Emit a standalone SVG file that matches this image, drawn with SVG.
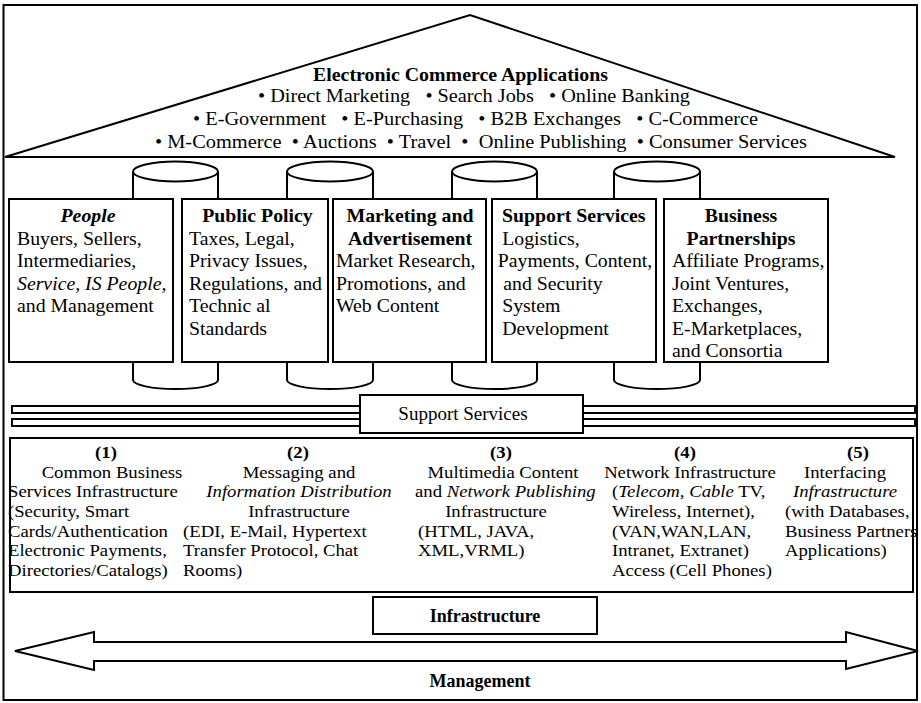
<svg xmlns="http://www.w3.org/2000/svg" width="921" height="703" viewBox="0 0 921 703">
<style>
text{font-family:"Liberation Serif","Times New Roman",serif;fill:#000;}
.t{font-size:18px;}
.s{font-size:17px;}
.b{font-weight:bold;}
.i{font-style:italic;}
.m{text-anchor:middle;}
.ln{fill:none;stroke:#000;stroke-width:2;}
.bx{fill:#fff;stroke:#000;stroke-width:2;}
</style>
<rect width="921" height="703" fill="#fff"/>
<g id="frame"><rect x="3.5" y="5" width="913.5" height="695" class="ln"/></g>

<g id="applications">
<polygon points="5,157 470,15 895,157" class="ln"/>
<text class="t b" x="313" y="81" textLength="295" lengthAdjust="spacingAndGlyphs">Electronic Commerce Applications</text>
<text class="t" x="258" y="102" xml:space="preserve" textLength="432" lengthAdjust="spacingAndGlyphs">• Direct Marketing   • Search Jobs   • Online Banking</text>
<text class="t" x="193" y="125" xml:space="preserve" textLength="565" lengthAdjust="spacingAndGlyphs">• E-Government   • E-Purchasing   • B2B Exchanges   • C-Commerce</text>
<text class="t" x="155" y="148" xml:space="preserve" textLength="652" lengthAdjust="spacingAndGlyphs">• M-Commerce  • Auctions  • Travel  •  Online Publishing  • Consumer Services</text>
</g>

<g id="pillars">
<path class="bx" d="M133,171.5 V380 A42.5,9 0 0 0 218,380 V171.5"/>
<ellipse class="bx" cx="175.5" cy="171.5" rx="42.5" ry="10"/>
<path class="bx" d="M287,171.5 V380 A43,9 0 0 0 373,380 V171.5"/>
<ellipse class="bx" cx="330" cy="171.5" rx="43" ry="10"/>
<path class="bx" d="M452,171.5 V380 A42.5,9 0 0 0 537,380 V171.5"/>
<ellipse class="bx" cx="494.5" cy="171.5" rx="42.5" ry="10"/>
<path class="bx" d="M614,171.5 V380 A43,9 0 0 0 700,380 V171.5"/>
<ellipse class="bx" cx="657" cy="171.5" rx="43" ry="10"/>
</g>

<g id="people">
<rect class="bx" x="9" y="199" width="164" height="163"/>
<text class="t b i m" transform="translate(88,222) scale(1.1,1)">People</text>
<text class="t" transform="translate(17,0) scale(1.1,1)"><tspan x="0" y="245">Buyers, Sellers,</tspan><tspan x="0" y="267.5">Intermediaries,</tspan><tspan x="0" y="290" font-style="italic">Service, IS People,</tspan><tspan x="0" y="312.5">and Management</tspan></text>
</g>

<g id="public-policy">
<rect class="bx" x="182" y="199" width="146" height="163"/>
<text class="t b m" transform="translate(257.5,222) scale(1.1,1)">Public Policy</text>
<text class="t" transform="translate(189,0) scale(1.1,1)"><tspan x="0" y="245">Taxes, Legal,</tspan><tspan x="0" y="267.5">Privacy Issues,</tspan><tspan x="0" y="290">Regulations, and</tspan><tspan x="0" y="312.5">Technic al</tspan><tspan x="0" y="335">Standards</tspan></text>
</g>

<g id="marketing">
<rect class="bx" x="333" y="199" width="153" height="163"/>
<text class="t b m" transform="translate(410,0) scale(1.1,1)"><tspan x="0" y="222">Marketing and</tspan><tspan x="0" y="245">Advertisement</tspan></text>
<text class="t" transform="translate(336,0) scale(1.1,1)"><tspan x="0" y="267.5">Market Research,</tspan><tspan x="0" y="290">Promotions, and</tspan><tspan x="0" y="312.5">Web Content</tspan></text>
</g>

<g id="support-services-box">
<rect class="bx" x="492" y="199" width="164" height="163"/>
<text class="t b" transform="translate(502,222) scale(1.1,1)">Support Services</text>
<text class="t" transform="translate(500,0) scale(1.1,1)"><tspan x="2" y="245">Logistics,</tspan><tspan x="-2" y="267.5">Payments, Content,</tspan><tspan x="3" y="290">and Security</tspan><tspan x="2" y="312.5">System</tspan><tspan x="2" y="335">Development</tspan></text>
</g>

<g id="partnerships">
<rect class="bx" x="664" y="199" width="164" height="163"/>
<text class="t b m" transform="translate(741,0) scale(1.1,1)"><tspan x="0" y="222">Business</tspan><tspan x="0" y="245">Partnerships</tspan></text>
<text class="t" transform="translate(672,0) scale(1.1,1)"><tspan x="0" y="267.5">Affiliate Programs,</tspan><tspan x="0" y="290">Joint Ventures,</tspan><tspan x="0" y="312.5">Exchanges,</tspan><tspan x="0" y="335">E-Marketplaces,</tspan><tspan x="0" y="357.5">and Consortia</tspan></text>
</g>

<g id="support-services-bar">
<rect class="ln" x="12" y="406" width="348" height="7"/>
<rect class="ln" x="12" y="419" width="348" height="7"/>
<rect class="ln" x="583" y="406" width="332" height="7"/>
<rect class="ln" x="583" y="419" width="332" height="7"/>
<rect class="bx" x="360" y="395" width="223" height="38"/>
<text class="m" x="463" y="420" font-size="19">Support Services</text>
</g>

<g id="infrastructure">
<rect class="bx" x="10" y="438" width="903" height="154"/>
<text class="s b m" transform="translate(106,458) scale(1.1,1)">(1)</text>
<text class="s m" transform="translate(112,477.7) scale(1.1,1)">Common Business</text>
<text class="s" transform="translate(8,0) scale(1.1,1)"><tspan x="0" y="497.4">Services Infrastructure</tspan><tspan x="0" y="517.1">(Security, Smart</tspan><tspan x="0" y="536.8">Cards/Authentication</tspan><tspan x="0" y="556.5">Electronic Payments,</tspan><tspan x="0" y="576.2">Directories/Catalogs)</tspan></text>

<text class="s b m" transform="translate(298,458) scale(1.1,1)">(2)</text>
<text class="s m" transform="translate(299,0) scale(1.1,1)"><tspan x="0" y="477.7">Messaging and</tspan><tspan x="0" y="497.4" font-style="italic">Information Distribution</tspan><tspan x="0" y="517.1">Infrastructure</tspan></text>
<text class="s" transform="translate(183,0) scale(1.1,1)"><tspan x="0" y="536.8">(EDI, E-Mail, Hypertext</tspan><tspan x="0" y="556.5">Transfer Protocol, Chat</tspan><tspan x="0" y="576.2">Rooms)</tspan></text>

<text class="s b m" transform="translate(501,458) scale(1.1,1)">(3)</text>
<text class="s m" transform="translate(503,477.7) scale(1.1,1)">Multimedia Content</text>
<text class="s" transform="translate(415,497.4) scale(1.1,1)">and <tspan font-style="italic">Network Publishing</tspan></text>
<text class="s m" transform="translate(496,517.1) scale(1.1,1)">Infrastructure</text>
<text class="s" transform="translate(418,0) scale(1.1,1)"><tspan x="0" y="536.8">(HTML, JAVA,</tspan><tspan x="0" y="556.5">XML,VRML)</tspan></text>

<text class="s b m" transform="translate(685,458) scale(1.1,1)">(4)</text>
<text class="s m" transform="translate(690,477.7) scale(1.1,1)">Network Infrastructure</text>
<text class="s" transform="translate(612,0) scale(1.1,1)"><tspan x="0" y="497.4">(<tspan font-style="italic">Telecom, Cable</tspan> TV,</tspan><tspan x="0" y="517.1">Wireless, Internet),</tspan><tspan x="0" y="536.8">(VAN,WAN,LAN,</tspan><tspan x="0" y="556.5">Intranet, Extranet)</tspan><tspan x="0" y="576.2">Access (Cell Phones)</tspan></text>

<text class="s b m" transform="translate(858,458) scale(1.1,1)">(5)</text>
<text class="s m" transform="translate(845,0) scale(1.1,1)"><tspan x="0" y="477.7">Interfacing</tspan><tspan x="0" y="497.4" font-style="italic">Infrastructure</tspan></text>
<text class="s" transform="translate(785,0) scale(1.1,1)"><tspan x="0" y="517.1">(with Databases,</tspan><tspan x="0" y="536.8">Business Partners</tspan><tspan x="0" y="556.5">Applications)</tspan></text>
</g>

<g id="infrastructure-label">
<rect class="bx" x="373" y="597" width="224" height="37"/>
<text class="b m" x="485" y="622" font-size="18">Infrastructure</text>
</g>

<g id="connectors">
<polygon class="ln" points="15,651 94,632 94,642 846,642 846,632 918,651 846,669 846,661 94,661 94,670"/>
</g>

<g id="management">
<text class="b m" x="480" y="687" font-size="18">Management</text>
</g>
</svg>
